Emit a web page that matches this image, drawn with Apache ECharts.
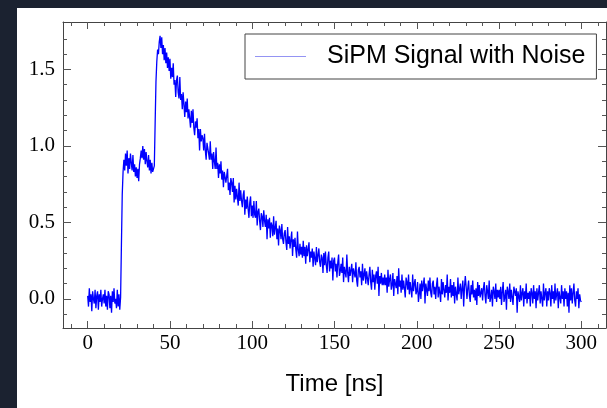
<!DOCTYPE html>
<html>
<head>
<meta charset="utf-8">
<script src="https://cdn.jsdelivr.net/npm/echarts@6/dist/echarts.min.js"></script>
<style>
  html, body { margin: 0; padding: 0; background: #1b2230; width: 607px; height: 408px; overflow: hidden; }
  #chart { position: absolute; left: 17px; top: 8px; width: 590px; height: 400px; background: #fff; }
</style>
</head>
<body>
<div id="chart"></div>
<script>
// sampled signal, one value every 0.5 ns starting at 0 ns
var tStart = 0;
var tStep = 0.5;
var signal = [
  .02,-.05,.07,-.02,.03,-.08,.05,.00,-.03,.06,-.06,.02,.05,-.07,.03,-.02,.06,-.05,.00,.03,
  -.03,.06,-.05,.02,-.07,.05,.03,-.06,.02,-.09,.05,-.02,.07,-.03,.00,-.06,.06,-.05,.03,-.07,
  .01,.35,.68,.83,.91,.84,.95,.87,.97,.82,.92,.85,.95,.89,.84,.94,.83,.88,.80,.86,
  .79,.85,.77,.88,.92,.97,.92,1.00,.91,.98,.88,.96,.90,.86,.94,.84,.91,.82,.89,.83,
  .83,.87,1.15,1.42,1.55,1.63,1.60,1.68,1.72,1.64,1.71,1.60,1.66,1.56,1.64,1.54,1.61,1.51,1.58,1.49,
  1.57,1.44,1.51,1.45,1.54,1.40,1.43,1.32,1.43,1.46,1.35,1.31,1.45,1.30,1.34,1.24,1.35,1.27,1.19,1.29,
  1.22,1.31,1.18,1.24,1.24,1.12,1.23,1.15,1.24,1.12,1.07,1.16,1.12,1.18,1.05,1.11,.97,1.11,1.03,1.07,
  1.05,.97,1.08,.97,.91,1.02,1.03,.95,.91,1.03,.91,.95,.85,.96,.90,.85,.99,.85,.89,.79,
  .88,.82,.90,.78,.84,.73,.83,.84,.76,.76,.85,.71,.76,.68,.79,.76,.70,.79,.63,.74,
  .65,.72,.71,.61,.76,.64,.71,.64,.60,.68,.71,.55,.65,.59,.67,.59,.53,.63,.67,.54,
  .61,.53,.64,.55,.53,.64,.48,.57,.59,.51,.45,.56,.54,.47,.58,.51,.47,.55,.39,.52,
  .46,.53,.40,.50,.48,.41,.54,.42,.43,.51,.39,.46,.35,.48,.45,.39,.49,.39,.36,.43,
  .45,.37,.32,.47,.36,.41,.33,.39,.44,.28,.39,.34,.40,.32,.27,.44,.32,.28,.36,.29,
  .34,.27,.38,.28,.34,.23,.35,.28,.27,.37,.24,.31,.27,.33,.21,.31,.30,.22,.34,.24,
  .24,.33,.24,.21,.29,.27,.17,.30,.22,.31,.22,.17,.27,.31,.18,.25,.20,.27,.12,.25,
  .27,.18,.23,.14,.24,.29,.15,.18,.23,.17,.27,.11,.21,.22,.14,.29,.17,.11,.21,.15,
  .16,.23,.11,.20,.19,.14,.24,.12,.08,.19,.21,.14,.18,.09,.23,.12,.13,.20,.10,.18,
  .18,.09,.16,.21,.11,.06,.19,.11,.16,.06,.15,.18,.10,.21,.02,.15,.10,.17,.09,.14,
  .09,.16,.09,.14,.04,.19,.08,.13,.16,.06,.09,.17,.02,.13,.12,.07,.15,.03,.20,.08,
  .12,.04,.16,.06,.12,.07,.01,.14,.11,.06,.16,.03,.11,.06,.01,.16,.05,.10,.13,.03,
  .05,.11,-.02,.03,.10,.00,.12,.05,.04,.14,-.03,.10,.09,.02,.12,.05,.14,.04,.01,.10,
  .12,.03,.08,.00,.09,.14,.01,.08,.04,-.02,.13,.03,.11,.06,.01,.09,.04,.16,-.01,.08,
  .04,.13,.01,.09,.02,.11,-.03,.08,.08,-.01,.14,.03,.02,.10,.00,.07,.12,-.05,.08,.15,
  .08,.00,.07,.12,.02,-.02,.09,.03,.12,.01,.06,-.01,.07,-.04,.11,.02,.09,.01,.02,.07,
  -.01,.07,.11,.02,-.03,.09,.05,.00,.12,-.02,.01,.06,-.05,.08,.05,.00,.10,-.02,.06,.01,
  .06,.00,.08,-.04,.05,.11,-.02,.01,.06,-.07,.08,.05,.00,.10,-.02,.06,.01,-.04,.08,.05,
  .02,.07,-.09,.05,.04,-.02,.09,-.01,.04,.07,-.05,.05,.00,.10,-.03,.04,.00,.05,-.05,.07,
  .04,-.03,.09,.00,.05,-.06,.07,-.01,.04,.09,-.03,.05,.00,-.05,.10,-.01,.04,.07,-.05,.05,
  -.01,.07,.04,-.05,.09,.00,.05,-.03,.10,-.01,.00,.07,-.06,.05,.04,-.03,.09,.00,.05,-.05,
  .07,.00,.05,-.05,.04,-.09,.09,-.01,.07,-.03,.04,.10,-.01,-.05,.05,.00,.07,-.06,.03,-.01,
  -.02
];
var seriesName = "SiPM Signal with Noise";
var xName = "Time [ns]";

// tick values
var xMajor = [0, 50, 100, 150, 200, 250, 300];
var xMinor = [-10, 10, 20, 30, 40, 60, 70, 80, 90, 110, 120, 130, 140, 160, 170, 180, 190,
  210, 220, 230, 240, 260, 270, 280, 290, 310];
var yMajor = [0, 0.5, 1.0, 1.5];
var yMinor = [-0.1, 0.1, 0.2, 0.3, 0.4, 0.6, 0.7, 0.8, 0.9, 1.1, 1.2, 1.3, 1.4, 1.6, 1.7];

var xMin = -15, xMax = 315;
var yMin = -0.19, yMax = 1.81;

function buildPoints() {
  return signal.map(function (v, i) {
    return [tStart + i * tStep, v];
  });
}

function tickAxis(pos, ticks, len, main) {
  return {
    type: "value",
    position: pos,
    gridIndex: 0,
    min: pos === "bottom" || pos === "top" ? xMin : yMin,
    max: pos === "bottom" || pos === "top" ? xMax : yMax,
    axisLine: { show: main, onZero: false, lineStyle: { color: "#444", width: 1 } },
    axisTick: {
      show: true,
      inside: true,
      length: len,
      customValues: ticks,
      lineStyle: { color: "#555", width: 1 },
    },
    axisLabel: { show: false },
    splitLine: { show: false },
  };
}

function initSignalChart(chartDom, echarts) {
  var myChart = echarts.init(chartDom, null, { renderer: "canvas" });
  var option;

  var xBottom = tickAxis("bottom", xMajor, 7, true);
  xBottom.axisLabel = {
    show: true,
    customValues: xMajor,
    fontFamily: "Liberation Serif",
    fontSize: 21,
    color: "#000",
    margin: 5,
  };
  xBottom.name = xName;
  xBottom.nameLocation = "middle";
  xBottom.nameGap = 44;
  xBottom.nameTextStyle = { fontFamily: "Liberation Sans", fontSize: 24, color: "#000" };

  var yLeft = tickAxis("left", yMajor, 8, true);
  yLeft.axisLabel = {
    show: true,
    customValues: yMajor,
    fontFamily: "Liberation Serif",
    fontSize: 21,
    color: "#000",
    margin: 8,
    formatter: function (v) {
      return v.toFixed(1);
    },
  };

  option = {
    animation: false,
    grid: { left: 46, right: 1, top: 14, bottom: 80, containLabel: false },
    legend: {
      data: [{ name: seriesName, icon: "rect" }],
      left: 228,
      top: 26,
      orient: "horizontal",
      itemWidth: 51,
      itemHeight: 1,
      itemStyle: { color: "#9494f3", borderWidth: 0 },
      padding: [10, 11, 10, 10],
      borderColor: "#444",
      borderWidth: 1,
      borderRadius: 0,
      backgroundColor: "#fff",
      textStyle: {
        fontFamily: "Liberation Sans",
        fontSize: 25,
        color: "#000",
        lineHeight: 24,
        padding: [0, 0, 0, 16],
      },
    },
    xAxis: [
      xBottom,
      tickAxis("bottom", xMinor, 4, false),
      tickAxis("top", xMajor, 7, true),
      tickAxis("top", xMinor, 4, false),
    ],
    yAxis: [
      yLeft,
      tickAxis("left", yMinor, 4, false),
      tickAxis("right", yMajor, 8, true),
      tickAxis("right", yMinor, 4, false),
    ],
    series: [
      {
        name: seriesName,
        type: "line",
        xAxisIndex: 0,
        yAxisIndex: 0,
        showSymbol: false,
        symbol: "none",
        smooth: false,
        lineStyle: { color: "#0000ff", width: 1.3, opacity: 1 },
        itemStyle: { color: "#0000ff" },
        data: buildPoints(),
      },
    ],
  };

  option && myChart.setOption(option);
}

initSignalChart(document.getElementById("chart"), echarts);
</script>
</body>
</html>
